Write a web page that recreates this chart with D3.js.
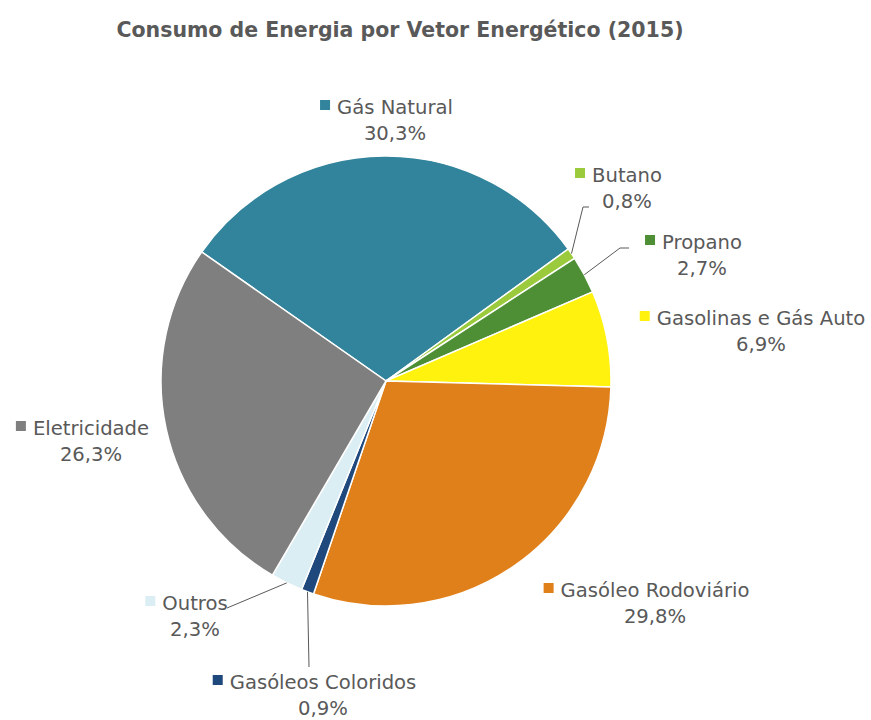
<!DOCTYPE html>
<html>
<head>
<meta charset="utf-8">
<script src="https://cdn.jsdelivr.net/npm/d3@7"></script>
<style>
  body { margin: 0; background: #fff; }
  svg text { font-family: "DejaVu Sans", sans-serif; fill: #595959; }
</style>
</head>
<body>
<div id="chart"></div>
<script>
var width = 871, height = 720;

// data
var categories = ["Gás Natural", "Butano", "Propano", "Gasolinas e Gás Auto",
                  "Gasóleo Rodoviário", "Gasóleos Coloridos", "Outros", "Eletricidade"];
var values = [30.3, 0.8, 2.7, 6.9, 29.8, 0.9, 2.3, 26.3];
var colors = ["#31849b", "#9bcb3c", "#4e8f35", "#fff20f", "#e0801a", "#1f497d", "#dbeef4", "#7f7f7f"];

// label layout, relative to pie centre: [x of text centre, baseline of first line]
var labelPos = [[9, -267], [241, -199], [316, -132], [375, -56],
                [269, 216], [-63, 308], [-191, 229], [-295, 54]];
// leader lines (relative to label anchor), null = no leader
var leaders = [null, [[-38, 25], [-44, 25]], [[-73, -1], [-82, -1]], null,
               null, [[-14, -22]], [[32, -2]], null];

var cx = 386, cy = 381, radius = 225;
var startDeg = -55;

var svg = d3.select("#chart").append("svg")
    .attr("width", width)
    .attr("height", height);

svg.append("text")
    .attr("x", 400)
    .attr("y", 37)
    .attr("text-anchor", "middle")
    .style("font-size", "20.5px")
    .style("font-weight", "bold")
    .text("Consumo de Energia por Vetor Energético (2015)");

var g = svg.append("g").attr("transform", "translate(" + cx + "," + cy + ")");

var a0 = startDeg * Math.PI / 180;
var pie = d3.pie().sort(null).startAngle(a0).endAngle(a0 + 2 * Math.PI);
var arcs = pie(values);
var arc = d3.arc().innerRadius(0).outerRadius(radius);

g.selectAll(".slice")
    .data(arcs)
  .enter().append("path")
    .attr("class", "slice")
    .attr("d", arc)
    .attr("fill", function(d, i) { return colors[i]; })
    .attr("stroke", "#fff")
    .attr("stroke-width", 1.5);

// leader lines
arcs.forEach(function(d, i) {
  if (!leaders[i]) return;
  var mid = (d.startAngle + d.endAngle) / 2;
  var pts = [[radius * Math.sin(mid), -radius * Math.cos(mid)]];
  for (var k = leaders[i].length - 1; k >= 0; k--) {
    pts.push([labelPos[i][0] + leaders[i][k][0], labelPos[i][1] + leaders[i][k][1]]);
  }
  g.append("path")
      .attr("d", d3.line()(pts))
      .attr("fill", "none")
      .attr("stroke", "#595959")
      .attr("stroke-width", 1);
});

var fmt = function(v) { return v.toFixed(1).replace(".", ",") + "%"; };

var labels = g.selectAll(".lbl")
    .data(arcs)
  .enter().append("g")
    .attr("class", "lbl")
    .attr("transform", function(d, i) { return "translate(" + labelPos[i][0] + "," + labelPos[i][1] + ")"; });

labels.append("text")
    .attr("class", "name")
    .attr("text-anchor", "middle")
    .style("font-size", "19.6px")
    .text(function(d, i) { return categories[i]; });

labels.append("text")
    .attr("y", 26)
    .attr("text-anchor", "middle")
    .style("font-size", "19.6px")
    .text(function(d) { return fmt(d.data); });

labels.each(function(d, i) {
  var w = d3.select(this).select(".name").node().getComputedTextLength();
  d3.select(this).insert("rect", ":first-child")
      .attr("x", -w / 2 - 17)
      .attr("y", -14)
      .attr("width", 10)
      .attr("height", 10)
      .attr("fill", colors[i]);
});
</script>
</body>
</html>
